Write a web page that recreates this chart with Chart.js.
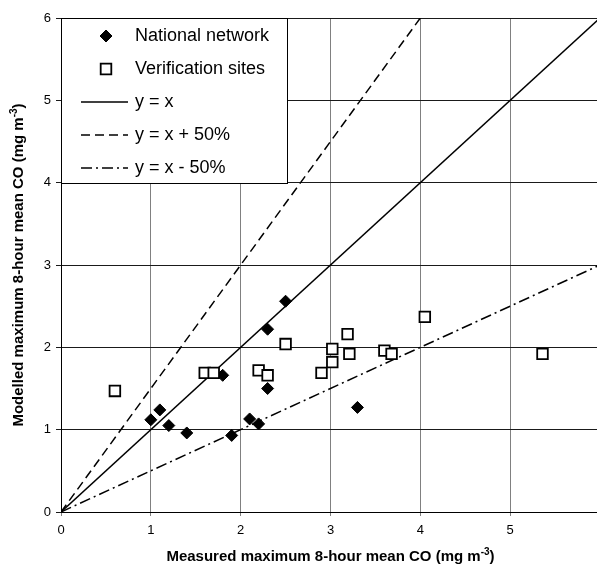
<!DOCTYPE html>
<html>
<head>
<meta charset="utf-8">
<script src="https://cdn.jsdelivr.net/npm/chart.js@4"></script>
<style>
  html, body { margin: 0; padding: 0; overflow: hidden; background: #fff; }
  #wrap { width: 600px; height: 565px; }
</style>
</head>
<body>
<div id="wrap"><canvas id="graficoCO"></canvas></div>
<script>
// National network (measured, modelled)
const nationalX = [1.0, 1.1, 1.2, 1.4, 1.8, 1.9, 2.1, 2.2, 2.3, 2.3, 2.5, 3.3];
const nationalY = [1.12, 1.24, 1.05, 0.96, 1.66, 0.93, 1.13, 1.07, 2.22, 1.50, 2.56, 1.27];

// Verification sites
const verificationX = [0.6, 1.6, 1.7, 2.2, 2.3, 2.5, 2.9, 3.02, 3.02, 3.19, 3.21, 3.6, 3.68, 4.05, 5.36];
const verificationY = [1.47, 1.69, 1.69, 1.72, 1.66, 2.04, 1.69, 1.82, 1.98, 2.16, 1.92, 1.96, 1.92, 2.37, 1.92];

// reference lines
const equalX = [0, 6], equalY = [0, 6];
const plus50X = [0, 4], plus50Y = [0, 6];
const minus50X = [0, 6], minus50Y = [0, 3];

const seriesLabels = ['National network', 'Verification sites', 'y = x', 'y = x + 50%', 'y = x - 50%'];
const xTickLabels = ['0', '1', '2', '3', '4', '5', ''];

const toPoints = (xs, ys) => xs.map((x, i) => ({ x: x, y: ys[i] }));
const FONT = '"Liberation Sans", Arial, sans-serif';

function drawTitle(ctx, x, y, main, sup, end) {
  ctx.font = 'bold 15px ' + FONT;
  const w1 = ctx.measureText(main).width;
  const w3 = ctx.measureText(end).width;
  ctx.font = 'bold 10px ' + FONT;
  const w2 = ctx.measureText(sup).width;
  let cx = x - (w1 + w2 + w3) / 2;
  ctx.textAlign = 'left';
  ctx.textBaseline = 'middle';
  ctx.font = 'bold 15px ' + FONT;
  ctx.fillText(main, cx, y);
  cx += w1;
  ctx.font = 'bold 10px ' + FONT;
  ctx.fillText(sup, cx, y - 5);
  cx += w2;
  ctx.font = 'bold 15px ' + FONT;
  ctx.fillText(end, cx, y);
}

const extras = {
  id: 'extras',
  afterDraw(chart) {
    const { ctx, chartArea: a } = chart;
    ctx.save();

    // legend box inside the plot
    const bw = 226, bh = 165;
    ctx.fillStyle = '#fff';
    ctx.fillRect(a.left, a.top, bw, bh);
    ctx.strokeStyle = '#000';
    ctx.lineWidth = 1;
    ctx.strokeRect(a.left + 0.5, a.top + 0.5, bw, bh);

    chart.data.datasets.forEach((ds, i) => {
      const y = a.top + 18 + i * 33;
      ctx.setLineDash([]);
      if (ds.showLine) {
        ctx.strokeStyle = ds.borderColor;
        ctx.lineWidth = ds.borderWidth;
        ctx.setLineDash(ds.borderDash || []);
        ctx.beginPath();
        ctx.moveTo(a.left + 20, y);
        ctx.lineTo(a.left + 67, y);
        ctx.stroke();
        ctx.setLineDash([]);
      } else {
        ctx.fillStyle = ds.backgroundColor;
        ctx.strokeStyle = ds.borderColor;
        ctx.lineWidth = ds.borderWidth;
        Chart.helpers.drawPoint(ctx, { pointStyle: ds.pointStyle, radius: ds.pointRadius, rotation: 0, borderWidth: ds.borderWidth }, a.left + 45, y);
      }
      ctx.fillStyle = '#000';
      ctx.font = '18px ' + FONT;
      ctx.textAlign = 'left';
      ctx.textBaseline = 'middle';
      ctx.fillText(ds.label, a.left + 74, y);
    });

    // axis titles with superscript
    ctx.fillStyle = '#000';
    drawTitle(ctx, (a.left + a.right) / 2, 557, 'Measured maximum 8-hour mean CO (mg m', '-3', ')');
    ctx.translate(19, (a.top + a.bottom) / 2);
    ctx.rotate(-Math.PI / 2);
    drawTitle(ctx, 0, 0, 'Modelled maximum 8-hour mean CO (mg m', '-3', ')');
    ctx.restore();
  }
};

const ctx = document.getElementById('graficoCO').getContext('2d');

new Chart(ctx, {
  type: 'scatter',
  data: {
    datasets: [{
      label: seriesLabels[0],
      data: toPoints(nationalX, nationalY),
      pointStyle: 'rectRot',
      pointRadius: 6,
      backgroundColor: '#000',
      borderColor: '#000',
      borderWidth: 1,
      order: 1
    }, {
      label: seriesLabels[1],
      data: toPoints(verificationX, verificationY),
      pointStyle: 'rect',
      pointRadius: 7.5,
      backgroundColor: '#fff',
      borderColor: '#000',
      borderWidth: 1.8,
      order: 0
    }, {
      label: seriesLabels[2],
      data: toPoints(equalX, equalY),
      showLine: true,
      pointRadius: 0,
      borderColor: '#000',
      borderWidth: 1.5,
      order: 2
    }, {
      label: seriesLabels[3],
      data: toPoints(plus50X, plus50Y),
      showLine: true,
      pointRadius: 0,
      borderColor: '#000',
      borderWidth: 1.5,
      borderDash: [9, 5],
      order: 2
    }, {
      label: seriesLabels[4],
      data: toPoints(minus50X, minus50Y),
      showLine: true,
      pointRadius: 0,
      borderColor: '#000',
      borderWidth: 1.5,
      borderDash: [11, 4, 2, 4],
      order: 2
    }]
  },
  options: {
    responsive: true,
    maintainAspectRatio: false,
    animation: false,
    layout: {
      autoPadding: false,
      padding: { top: 18, right: 0, left: 0, bottom: 0 }
    },
    plugins: {
      legend: { display: false },
      tooltip: { enabled: false }
    },
    scales: {
      x: {
        type: 'linear',
        min: 0,
        max: 6,
        afterFit: (scale) => {
          scale.height = 53;
          scale.paddingRight = 0;
          scale.paddingLeft = 0;
        },
        ticks: {
          stepSize: 1,
          padding: 7,
          color: '#000',
          font: { family: FONT, size: 13 },
          callback: (v) => xTickLabels[v]
        },
        grid: { color: '#808080', lineWidth: 1, tickLength: 4 },
        border: { color: '#000', width: 1 }
      },
      y: {
        min: 0,
        max: 6,
        afterFit: (scale) => {
          scale.width = 61;
          scale.paddingTop = 0;
          scale.paddingBottom = 0;
        },
        ticks: {
          stepSize: 1,
          padding: 5,
          color: '#000',
          font: { family: FONT, size: 13 }
        },
        grid: { color: '#1a1a1a', lineWidth: 1, tickLength: 5 },
        border: { color: '#000', width: 1 }
      }
    }
  },
  plugins: [extras]
});
</script>
</body>
</html>
